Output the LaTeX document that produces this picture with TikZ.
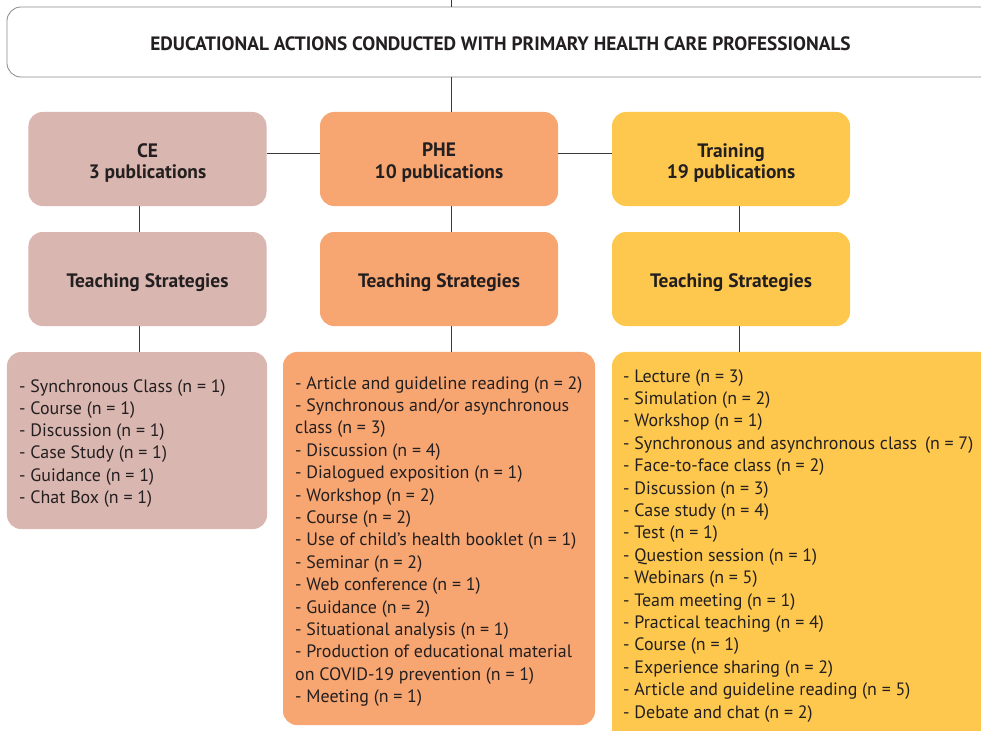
\documentclass[tikz,border=0pt]{standalone}
\usepackage{fontspec}
\setmainfont{PT Sans}
\definecolor{ceFill}{HTML}{D9B6AF}
\definecolor{pheFill}{HTML}{F7A672}
\definecolor{trFill}{HTML}{FEC84E}
\definecolor{inkC}{HTML}{231F20}
\definecolor{lineC}{HTML}{3A3A3A}
\definecolor{frameC}{HTML}{8A8A8A}
\begin{document}
\begin{tikzpicture}[x=1bp,y=-1bp,
  box/.style={rounded corners=14bp, inner sep=0pt},
  headbox/.style={box, draw=frameC, line width=0.8bp, fill=white,
    minimum width=987bp, minimum height=70bp},
  levelbox/.style={box, minimum width=238bp, minimum height=94bp},
  title/.style={inner sep=0pt, align=center, text=inkC,
    font=\fontsize{19.5}{22}\selectfont\bfseries},
  headtitle/.style={title, font=\fontsize{19.4}{22}\selectfont\bfseries},
  link/.style={draw=lineC, line width=1bp},
  item/.style={anchor=base west, inner sep=0pt, text=inkC,
    font=\fontsize{18}{22}\selectfont}
]
\useasboundingbox (0,0) rectangle (981,731);
\clip (0,0) rectangle (981,731);

% column axes for the vertical connectors
\coordinate (topEnd) at (451,0);
\coordinate (ceX) at (139,0);
\coordinate (pheX) at (451,0);
\coordinate (trX) at (739,0);
\coordinate (hY) at (0,154);

% header
\node[headbox] (head) at (500.5,42) {};
\node[headtitle] (headText) at ([yshift=-2bp]head.center)
  {EDUCATIONAL ACTIONS CONDUCTED WITH PRIMARY HEALTH CARE PROFESSIONALS};

% first level
\node[levelbox, fill=ceFill]  (ce1)  at (147.5,159) {};
\node[levelbox, fill=pheFill] (phe1) at (439,159)   {};
\node[levelbox, fill=trFill]  (tr1)  at (731,159)   {};
\node[title] (ce1Text)  at ([yshift=-4bp]ce1.center)  {CE\\3 publications};
\node[title] (phe1Text) at ([yshift=-4bp]phe1.center) {PHE\\10 publications};
\node[title] (tr1Text)  at ([yshift=-4bp]tr1.center)  {Training\\19 publications};

% second level
\node[levelbox, fill=ceFill]  (ce2)  at (147.5,279) {};
\node[levelbox, fill=pheFill] (phe2) at (439,279)   {};
\node[levelbox, fill=trFill]  (tr2)  at (731,279)   {};
\node[title] (ce2Text)  at ([yshift=-4bp]ce2.center)  {Teaching Strategies};
\node[title] (phe2Text) at ([yshift=-4bp]phe2.center) {Teaching Strategies};
\node[title] (tr2Text)  at ([yshift=-4bp]tr2.center)  {Teaching Strategies};

% list boxes
\node[box, fill=ceFill,  minimum width=260bp, minimum height=177bp] (ce3)  at (137,440.5) {};
\node[box, fill=pheFill, minimum width=312bp, minimum height=373bp] (phe3) at (439,538.5) {};
\node[box, fill=trFill,  minimum width=400bp, minimum height=420bp] (tr3)  at (812,562) {};

% connectors
\draw[link] (topEnd) -- (head.north -| topEnd);
\draw[link] (head.south -| pheX) -- (phe1.north -| pheX);
\draw[link] (ce1.east |- hY) -- (phe1.west |- hY);
\draw[link] (phe1.east |- hY) -- (tr1.west |- hY);
\draw[link] (ce1.south -| ceX) -- (ce2.north -| ceX);
\draw[link] (phe1.south -| pheX) -- (phe2.north -| pheX);
\draw[link] (tr1.south -| trX) -- (tr2.north -| trX);
\draw[link] (ce2.south -| ceX) -- (ce3.north -| ceX);
\draw[link] (phe2.south -| pheX) -- (phe3.north -| pheX);
\draw[link] (tr2.south -| trX) -- (tr3.north -| trX);

% list entries
\foreach [count=\i] \t in {
  - Synchronous Class (n = 1),
  - Course (n = 1),
  - Discussion (n = 1),
  - Case Study (n = 1),
  - Guidance (n = 1),
  - Chat Box (n = 1)}
  \node[item] (ceItem\i) at (19,{392+22.3*(\i-1)}) {\t};

\foreach [count=\i] \t in {
  - Article and guideline reading (n = 2),
  - Synchronous and/or asynchronous,
  class (n = 3),
  - Discussion (n = 4),
  - Dialogued exposition (n = 1),
  - Workshop (n = 2),
  - Course (n = 2),
  - Use of child's health booklet (n = 1),
  - Seminar (n = 2),
  - Web conference (n = 1),
  - Guidance (n = 2),
  - Situational analysis (n = 1),
  - Production of educational material,
  on COVID-19 prevention (n = 1),
  - Meeting (n = 1)}
  \node[item] (pheItem\i) at (295,{389+22.4*(\i-1)}) {\t};

\foreach [count=\i] \t in {
  - Lecture (n = 3),
  - Simulation (n = 2),
  - Workshop (n = 1),
  - Synchronous and asynchronous class\,\ (n = 7),
  - Face-to-face class (n = 2),
  - Discussion (n = 3),
  - Case study (n = 4),
  - Test (n = 1),
  - Question session (n = 1),
  - Webinars (n = 5),
  - Team meeting (n = 1),
  - Practical teaching (n = 4),
  - Course (n = 1),
  - Experience sharing (n = 2),
  - Article and guideline reading (n = 5),
  - Debate and chat (n = 2)}
  \node[item] (trItem\i) at (623,{382+22.4*(\i-1)}) {\t};
\end{tikzpicture}
\end{document}
